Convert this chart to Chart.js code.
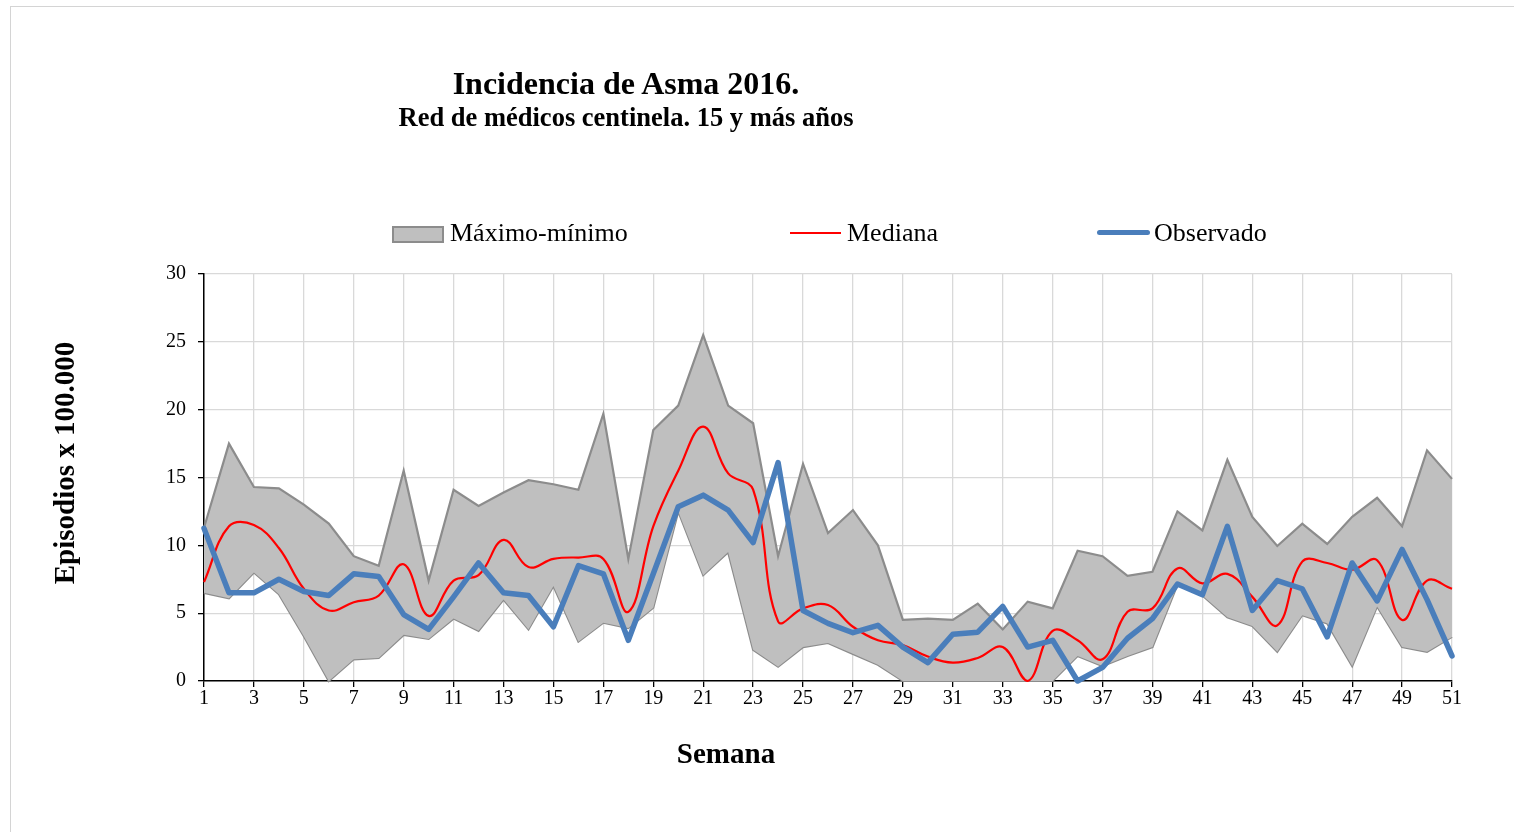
<!DOCTYPE html>
<html>
<head>
<meta charset="utf-8">
<script src="https://cdn.jsdelivr.net/npm/chart.js@4/dist/chart.umd.min.js"></script>
<style>
    body { margin: 0; background: #fff; font-family: 'Liberation Serif', 'Times New Roman', serif; }
    #wrap { position: relative; width: 1514px; height: 832px; overflow: hidden; }
    #frame { position: absolute; left: 10px; top: 6px; width: 1600px; height: 900px; border-left: 1px solid #d4d4d4; border-top: 1px solid #d4d4d4; }
    canvas { position: absolute; left: 0; top: 0; }
    .txt { position: absolute; white-space: nowrap; font-weight: bold; color: #000; }
    .leg { position: absolute; top: 218px; height: 30px; line-height: 30px; font-size: 26px; white-space: nowrap; }
    .sw { display: inline-block; vertical-align: middle; margin-right: 6px; position: relative; }
</style>
</head>
<body>
<div id="wrap">
    <div id="frame"></div>
    <canvas id="chart" width="1514" height="832"></canvas>
    <div class="txt" style="left:0;width:1252px;text-align:center;top:65px;font-size:32px;">Incidencia de Asma 2016.</div>
    <div class="txt" style="left:0;width:1252px;text-align:center;top:102px;font-size:26.5px;">Red de médicos centinela. 15 y más años</div>
    <div class="leg" style="left:392px;"><span class="sw" style="width:48px;height:13px;background:#bfbfbf;border:2px solid #8c8c8c;top:-1px;"></span>Máximo-mínimo</div>
    <div class="leg" style="left:790px;"><span class="sw" style="width:51px;height:2px;background:#ff0000;top:-2px;"></span>Mediana</div>
    <div class="leg" style="left:1097px;"><span class="sw" style="width:53px;height:5px;background:#4a7ebb;border-radius:3px;margin-right:4px;top:-3px;"></span>Observado</div>
    <div class="txt" style="left:576px;width:300px;text-align:center;top:735px;height:36px;line-height:36px;font-size:29px;">Semana</div>
    <div class="txt" style="left:-86px;width:300px;text-align:center;top:445px;height:36px;line-height:36px;font-size:29px;transform:rotate(-90deg);">Episodios x 100.000</div>
</div>
<script>
//-- Data//
const weeks = [1, 2, 3, 4, 5, 6, 7, 8, 9, 10, 11, 12, 13, 14, 15, 16, 17, 18, 19, 20,
    21, 22, 23, 24, 25, 26, 27, 28, 29, 30, 31, 32, 33, 34, 35, 36, 37, 38, 39, 40,
    41, 42, 43, 44, 45, 46, 47, 48, 49, 50, 51];

const maxVals = [11.3, 17.5, 14.3, 14.2, 13.0, 11.6, 9.2, 8.5, 15.5, 7.4,
    14.1, 12.9, 13.9, 14.8, 14.5, 14.1, 19.7, 9.0, 18.5, 20.3,
    25.5, 20.3, 19.0, 9.2, 16.0, 10.9, 12.6, 10.0, 4.5, 4.6,
    4.5, 5.7, 3.8, 5.85, 5.35, 9.6, 9.2, 7.75, 8.05, 12.5,
    11.1, 16.3, 12.1, 9.95, 11.6, 10.1, 12.1, 13.5, 11.4, 17.0, 14.9];

const minVals = [6.5, 6.1, 8.0, 6.4, 3.3, 0, 1.6, 1.7, 3.4, 3.1,
    4.6, 3.7, 6.0, 3.8, 7.0, 2.9, 4.3, 3.9, 5.4, 12.5,
    7.8, 9.5, 2.3, 1.05, 2.5, 2.8, 2.0, 1.2, 0, 0,
    0, 0, 0, 0, 0, 1.85, 1.1, 1.85, 2.5, 7.1,
    6.3, 4.7, 4.05, 2.15, 4.85, 4.25, 1.1, 5.5, 2.5, 2.15, 3.25];

const medianVals = [7.3, 11.4, 11.5, 9.8, 6.8, 5.2, 5.8, 6.3, 8.6, 4.8,
    7.4, 7.8, 10.4, 8.4, 9.0, 9.1, 9.0, 5.1, 11.4, 15.5,
    18.75, 15.3, 14.1, 4.4, 5.35, 5.6, 4.0, 3.0, 2.65, 1.8,
    1.35, 1.7, 2.5, 0, 3.7, 3.0, 1.6, 5.1, 5.35, 8.3,
    7.2, 7.9, 6.2, 4.1, 8.8, 8.7, 8.2, 8.9, 4.5, 7.4, 6.8];

const observedVals = [11.25, 6.5, 6.5, 7.5, 6.6, 6.3, 7.9, 7.7, 4.9, 3.8,
    6.2, 8.7, 6.5, 6.3, 4.0, 8.5, 7.9, 3.0, 7.9, 12.85,
    13.7, 12.6, 10.2, 16.1, 5.2, 4.25, 3.56, 4.1, 2.5, 1.35,
    3.45, 3.6, 5.5, 2.5, 3.0, 0, 1.0, 3.15, 4.6, 7.15,
    6.35, 11.4, 5.2, 7.4, 6.8, 3.25, 8.7, 5.9, 9.7, 6.0, 1.85];

const yTicks = [0, 5, 10, 15, 20, 25, 30];

const toPoints = vals => weeks.map((w, i) => ({ x: w, y: vals[i] }));

//-- Chart//
const ctx = document.getElementById('chart');
const serif = "'Liberation Serif', 'Times New Roman', serif";

new Chart(ctx, {
    type: 'line',
    data: {
        datasets: [
            {
                label: 'Observado',
                data: toPoints(observedVals),
                borderColor: '#4a7ebb',
                borderWidth: 5.5,
                borderJoinStyle: 'round',
                borderCapStyle: 'round',
                pointRadius: 0,
                tension: 0,
                fill: false,
                clip: 8,
                order: 0
            },
            {
                label: 'Mediana',
                data: toPoints(medianVals),
                borderColor: '#ff0000',
                borderWidth: 2.2,
                pointRadius: 0,
                tension: 0.4,
                fill: false,
                clip: 8,
                order: 1
            },
            {
                label: 'Máximo',
                data: toPoints(maxVals),
                borderColor: '#8c8c8c',
                borderWidth: 2.2,
                backgroundColor: '#bfbfbf',
                pointRadius: 0,
                tension: 0,
                fill: '+1',
                clip: 8,
                order: 2
            },
            {
                label: 'Mínimo',
                data: toPoints(minVals),
                borderColor: '#8c8c8c',
                borderWidth: 2.2,
                pointRadius: 0,
                tension: 0,
                fill: false,
                clip: 8,
                order: 3
            }
        ]
    },
    options: {
        responsive: false,
        animation: false,
        layout: { padding: { top: 274, right: 62, bottom: 0, left: 0 } },
        plugins: {
            legend: { display: false },
            title: { display: false },
            tooltip: { enabled: false }
        },
        scales: {
            x: {
                type: 'linear',
                min: 1,
                max: 51,
                afterFit: scale => { scale.height = 151; },
                ticks: {
                    stepSize: 2,
                    padding: 0,
                    color: '#000',
                    font: { family: serif, size: 20 },
                    maxRotation: 0
                },
                grid: { color: '#d9d9d9', lineWidth: 1.3, tickColor: '#000', tickLength: 6 },
                border: { color: '#000', width: 1.5 }
            },
            y: {
                min: 0,
                max: 30,
                afterFit: scale => { scale.width = 204; },
                afterBuildTicks: scale => { scale.ticks = yTicks.map(v => ({ value: v })); },
                ticks: {
                    padding: 12,
                    color: '#000',
                    font: { family: serif, size: 20 }
                },
                grid: { color: '#d9d9d9', lineWidth: 1.3, tickColor: '#000', tickLength: 6 },
                border: { color: '#000', width: 1.5 }
            }
        }
    }
});
</script>
</body>
</html>
